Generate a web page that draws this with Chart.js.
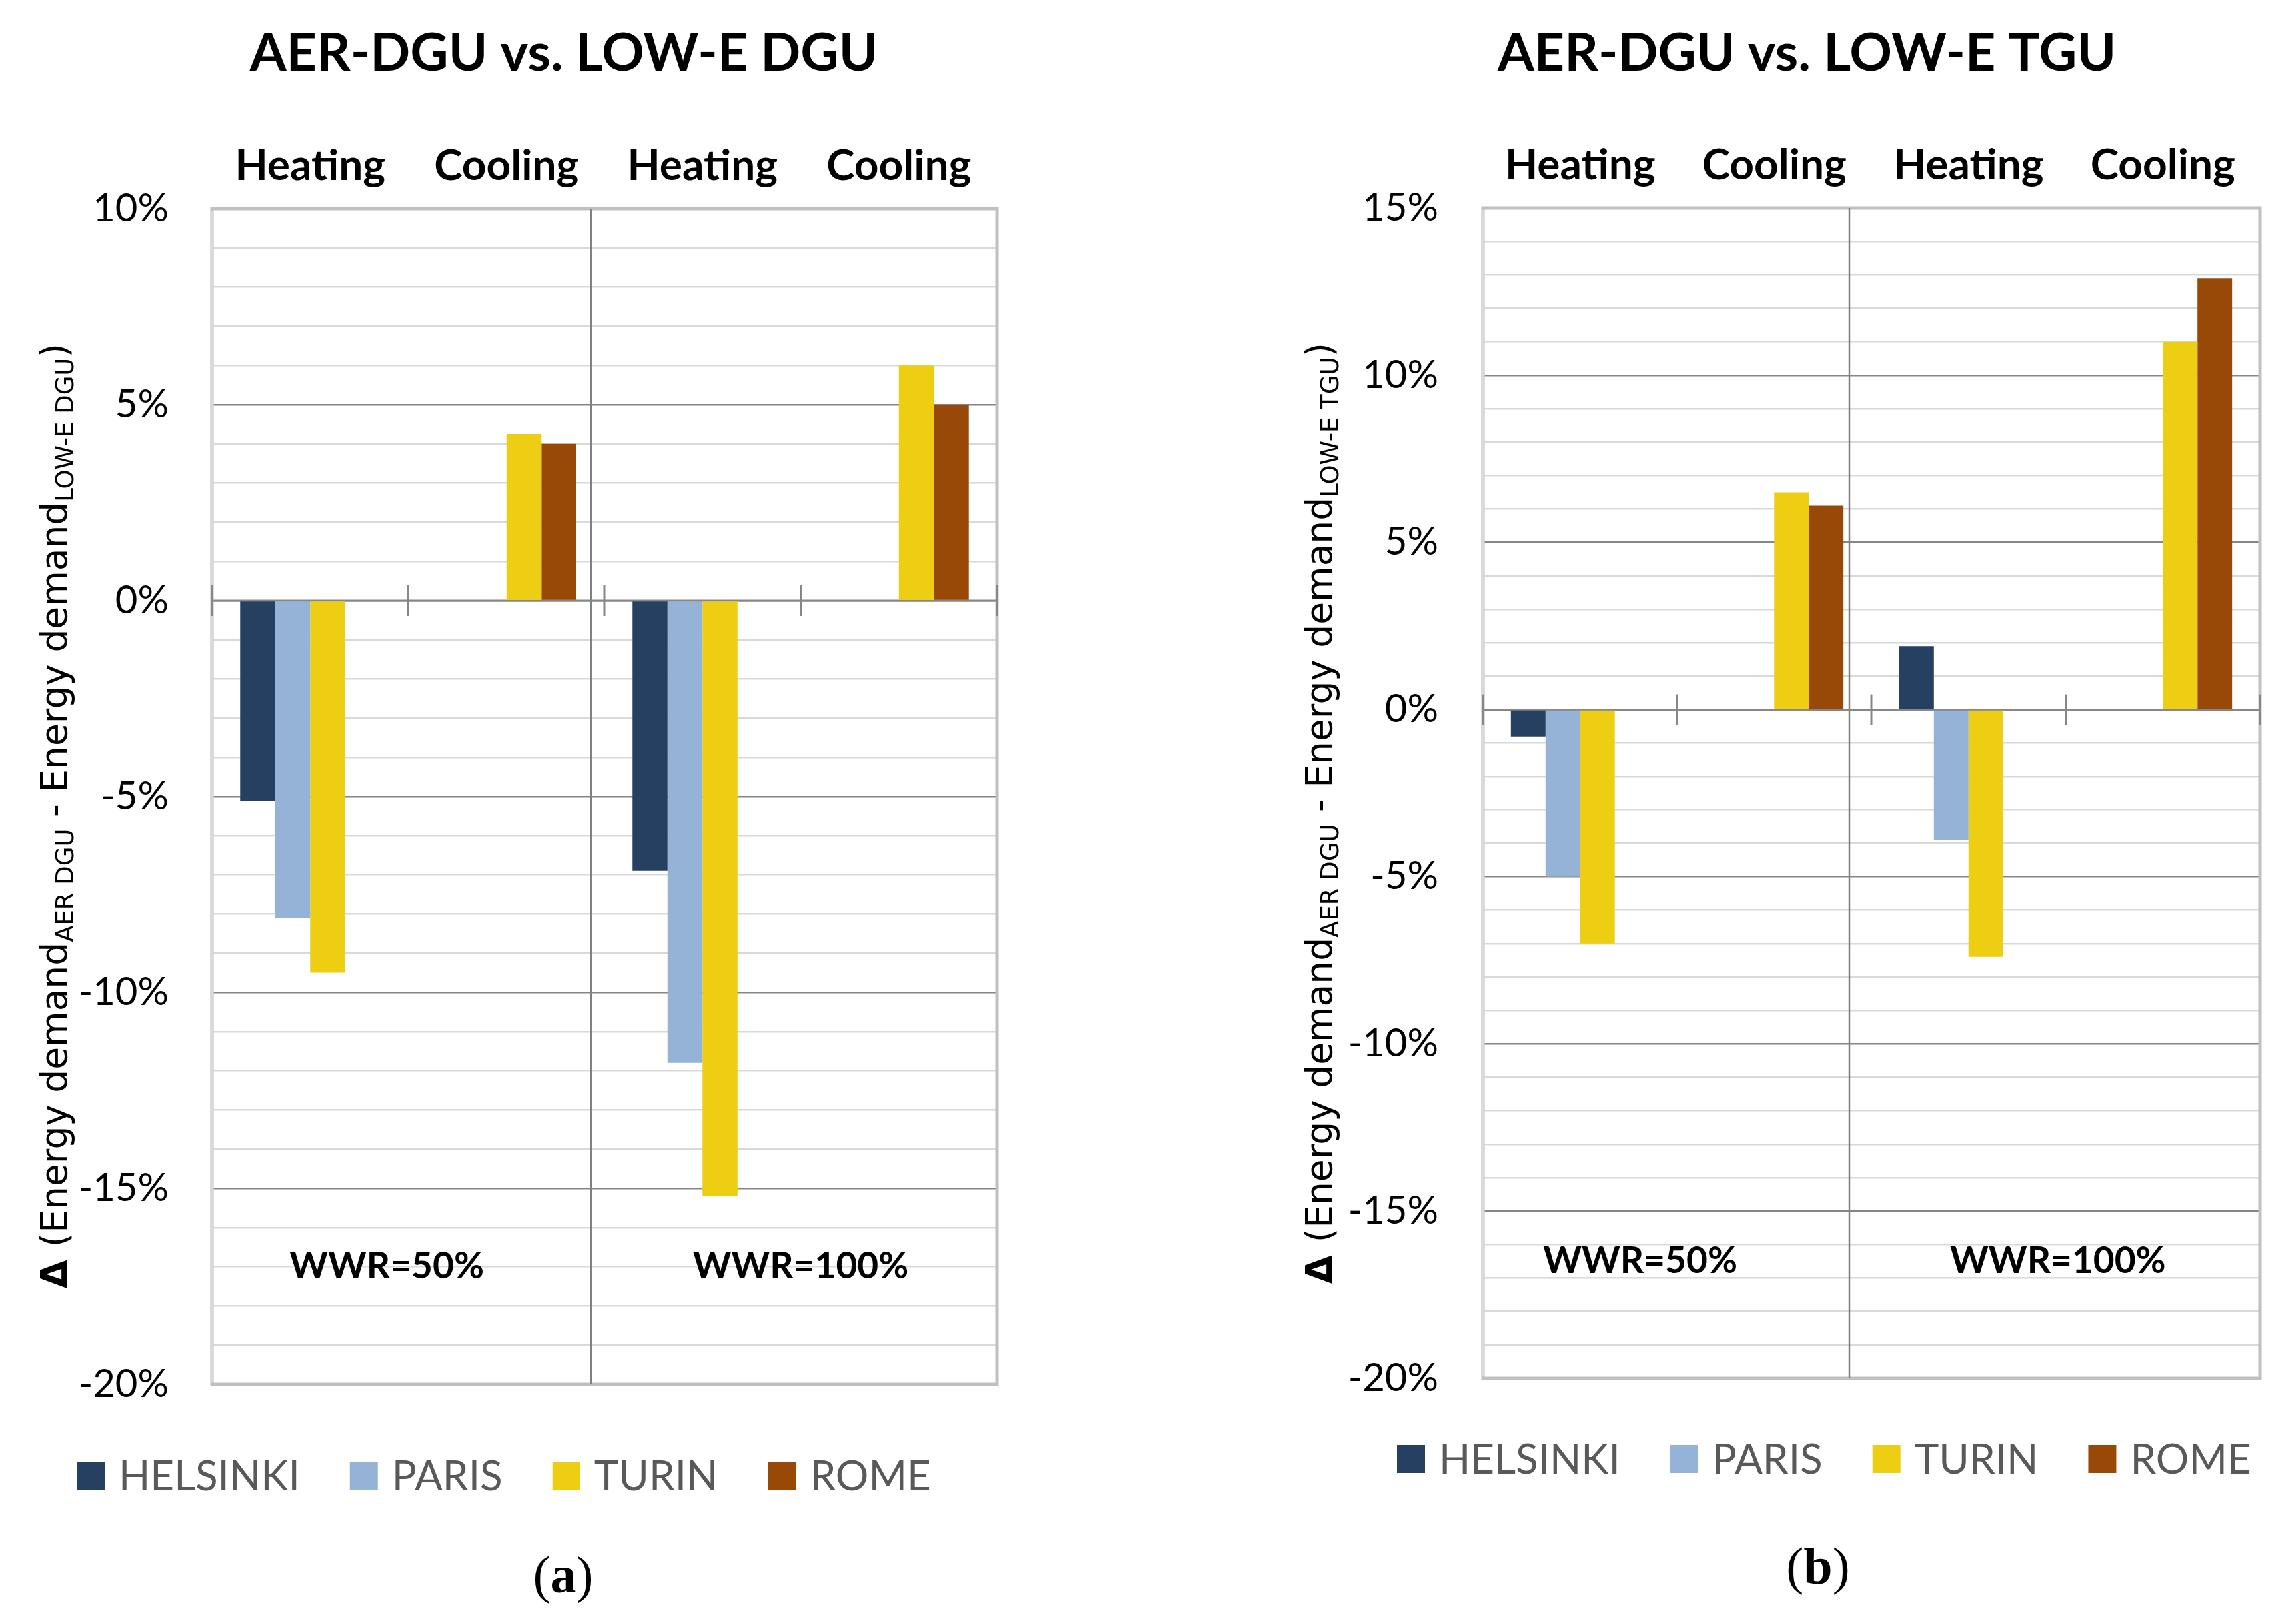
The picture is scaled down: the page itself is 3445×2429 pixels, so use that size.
<!DOCTYPE html>
<html>
<head>
<meta charset="utf-8">
<script src="https://cdn.jsdelivr.net/npm/chart.js@4.4.1/dist/chart.umd.min.js"></script>
<style>
  html, body { margin: 0; padding: 0; background: #fff; }
  #wrap { position: relative; width: 3445px; height: 2429px; overflow: hidden; }
  canvas { position: absolute; top: 0; }
</style>
</head>
<body>
<div id="wrap">
  <canvas id="chartA" width="1722" height="2429" style="left:0"></canvas>
  <canvas id="chartB" width="1723" height="2429" style="left:1722px"></canvas>
</div>
<script>
const categories = ['Heating', 'Cooling', 'Heating', 'Cooling'];
const cities = ['HELSINKI', 'PARIS', 'TURIN', 'ROME'];
const cityColors = ['#264061', '#95B3D7', '#EECE12', '#984807'];
const wwrLabels = ['WWR=50%', 'WWR=100%'];

// (a) AER-DGU vs. LOW-E DGU  [%]
const dguHelsinki = [-5.1, null, -6.9, null];
const dguParis    = [-8.1, null, -11.8, null];
const dguTurin    = [-9.5, 4.25, -15.2, 6.0];
const dguRome     = [null, 4.0, null, 5.0];

// (b) AER-DGU vs. LOW-E TGU  [%]
const tguHelsinki = [-0.8, null, 1.9, null];
const tguParis    = [-5.0, null, -3.9, null];
const tguTurin    = [-7.0, 6.5, -7.4, 11.0];
const tguRome     = [null, 6.1, null, 12.9];

const SANS = 'Lato';
const VERD = '"DejaVu Sans"';

function line(ctx, x1, y1, x2, y2) {
    ctx.beginPath();
    ctx.moveTo(x1, y1);
    ctx.lineTo(x2, y2);
    ctx.stroke();
}

function buildChart(id, cfg) {
    const canvas = document.getElementById(id);
    const W = canvas.width, H = canvas.height;
    const p = cfg.plot;

    const decor = {
        id: 'decor',
        beforeDatasetsDraw(chart) {
            const { ctx, chartArea: a, scales: { x, y } } = chart;
            ctx.save();
            // plot border (left edge is lighter, like the value axis line)
            ctx.strokeStyle = '#c0c0c0';
            ctx.lineWidth = 5;
            ctx.strokeRect(a.left, a.top, a.right - a.left, a.bottom - a.top);
            ctx.strokeStyle = '#d9d9d9';
            line(ctx, a.left, a.top + 3, a.left, a.bottom - 3);
            // divider between WWR groups
            const dx = x.getPixelForValue(1.5) + cfg.dividerShift;
            ctx.strokeStyle = '#808080';
            ctx.lineWidth = 2.5;
            line(ctx, dx, a.top, dx, a.bottom);
            // zero axis with ticks at category borders
            const y0 = y.getPixelForValue(0);
            ctx.strokeStyle = '#878787';
            ctx.lineWidth = 3;
            line(ctx, a.left, y0, a.right, y0);
            for (let i = 0; i <= categories.length; i++) {
                const tx = x.getPixelForValue(i - 0.5);
                line(ctx, tx, y0 - 23, tx, y0 + 23);
            }
            ctx.restore();
        },
        afterDraw(chart) {
            const { ctx, scales: { x, y } } = chart;
            ctx.save();
            ctx.fillStyle = '#000';
            ctx.textAlign = 'center';
            ctx.textBaseline = 'middle';

            // title
            ctx.font = `bold 79px ${SANS}`;
            ctx.fillText(cfg.title, cfg.titleX, cfg.titleY);

            // WWR labels
            ctx.font = `bold 55px ${SANS}`;
            wwrLabels.forEach((t, i) => {
                ctx.fillText(t, x.getPixelForValue(cfg.wwrAt[i]), y.getPixelForValue(cfg.wwrY));
            });

            // rotated y title with subscripts
            ctx.save();
            ctx.translate(cfg.yTitleX, cfg.yTitleY);
            ctx.rotate(-Math.PI / 2);
            ctx.textAlign = 'left';
            ctx.textBaseline = 'alphabetic';
            const segs = [
                { t: 'Δ ', f: `bold 55px ${VERD}`, dy: 0 },
                { t: '(Energy demand', f: `55px ${VERD}`, dy: 0 },
                { t: 'AER DGU', f: `37px ${VERD}`, dy: 10 },
                { t: ' - Energy demand', f: `55px ${VERD}`, dy: 0 },
                { t: cfg.sub2, f: `37px ${VERD}`, dy: 10 },
                { t: ')', f: `55px ${VERD}`, dy: 0 }
            ];
            let total = 0;
            segs.forEach(s => { ctx.font = s.f; s.w = ctx.measureText(s.t).width; total += s.w; });
            let tx = -total / 2;
            segs.forEach(s => { ctx.font = s.f; ctx.fillText(s.t, tx, s.dy); tx += s.w; });
            ctx.restore();

            // legend
            ctx.textAlign = 'left';
            ctx.font = `62px ${SANS}`;
            let lx = cfg.legendX;
            cities.forEach((c, i) => {
                ctx.fillStyle = cityColors[i];
                ctx.fillRect(lx, cfg.legendY - 21, 42, 42);
                ctx.fillStyle = '#595959';
                ctx.fillText(c, lx + 63, cfg.legendY + 2);
                lx += 63 + ctx.measureText(c).width + 75;
            });

            // caption (a)/(b)
            ctx.fillStyle = '#000';
            const cap = [
                { t: '(', f: '78px "Liberation Serif"' },
                { t: cfg.caption, f: 'bold 78px "Liberation Serif"' },
                { t: ')', f: '78px "Liberation Serif"' }
            ];
            let cw = 0;
            cap.forEach(s => { ctx.font = s.f; s.w = ctx.measureText(s.t).width; cw += s.w; });
            let cx = cfg.captionX - cw / 2;
            cap.forEach(s => { ctx.font = s.f; ctx.fillText(s.t, cx, cfg.captionY); cx += s.w; });

            ctx.restore();
        }
    };

    return new Chart(canvas, {
        type: 'bar',
        data: {
            labels: categories,
            datasets: cities.map((c, i) => ({
                label: c,
                data: cfg.series[i],
                backgroundColor: cityColors[i],
                borderWidth: 0,
                barPercentage: 1,
                categoryPercentage: 0.713
            }))
        },
        options: {
            responsive: false,
            animation: false,
            devicePixelRatio: 1,
            layout: {
                padding: { left: 0, top: 0, right: W - p.right, bottom: H - p.bottom }
            },
            plugins: {
                legend: { display: false },
                tooltip: { enabled: false },
                title: { display: false }
            },
            scales: {
                x: {
                    position: 'top',
                    grid: { display: false },
                    border: { display: false },
                    ticks: {
                        color: '#000',
                        font: { family: SANS, size: 64, weight: 'bold' },
                        padding: 17,
                        maxRotation: 0,
                        autoSkip: false
                    },
                    afterFit(s) { s.height = p.top; }
                },
                y: {
                    min: cfg.yMin,
                    max: cfg.yMax,
                    border: { display: false },
                    grid: {
                        drawTicks: false,
                        lineWidth: 2.5,
                        color: (c) => {
                            const v = c.tick.value;
                            if (v === cfg.yMin || v === cfg.yMax) return '#c0c0c0';
                            return v % 5 === 0 ? '#868686' : '#d9d9d9';
                        }
                    },
                    ticks: {
                        stepSize: 1,
                        autoSkip: false,
                        color: '#000',
                        padding: cfg.tickPad,
                        font: { family: SANS, size: 58 },
                        callback: (v) => (v % 5 === 0 ? v + '%' : '')
                    },
                    afterFit(s) { s.width = p.left; }
                }
            }
        },
        plugins: [decor]
    });
}

buildChart('chartA', {
    title: 'AER-DGU vs. LOW-E DGU',
    sub2: 'LOW-E DGU',
    caption: 'a',
    series: [dguHelsinki, dguParis, dguTurin, dguRome],
    yMin: -20, yMax: 10,
    plot: { left: 318, right: 1496, top: 313, bottom: 2077 },
    tickPad: 65,
    dividerShift: -20,
    titleX: 846, titleY: 81,
    yTitleX: 100, yTitleY: 1224,
    wwrAt: [0.39, 2.50], wwrY: -17.0,
    legendX: 115, legendY: 2214,
    captionX: 845, captionY: 2369
});

buildChart('chartB', {
    title: 'AER-DGU vs. LOW-E TGU',
    sub2: 'LOW-E TGU',
    caption: 'b',
    series: [tguHelsinki, tguParis, tguTurin, tguRome],
    yMin: -20, yMax: 15,
    plot: { left: 503, right: 1669, top: 312, bottom: 2068 },
    tickPad: 67,
    dividerShift: -33,
    titleX: 989, titleY: 81,
    yTitleX: 276, yTitleY: 1220,
    wwrAt: [0.31, 2.46], wwrY: -16.5,
    legendX: 374, legendY: 2189,
    captionX: 1006, captionY: 2356
});
</script>
</body>
</html>
